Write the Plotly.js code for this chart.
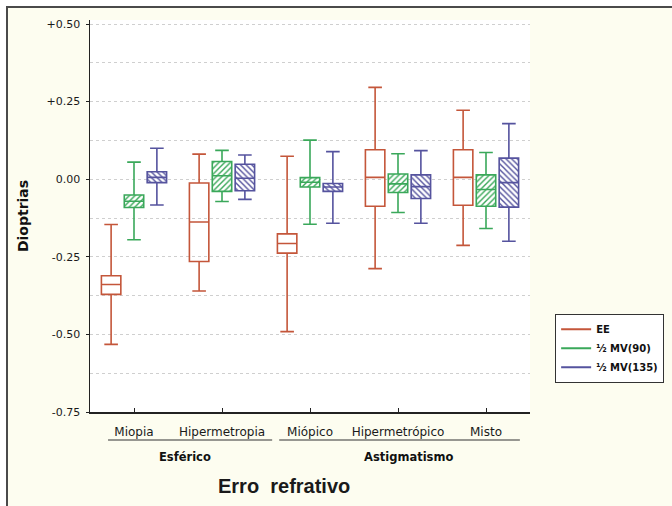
<!DOCTYPE html>
<html>
<head>
<meta charset="utf-8">
<script src="https://cdn.plot.ly/plotly-3.0.1.min.js"></script>
<style>
  html, body { margin: 0; padding: 0; background: #ffffff; width: 672px; height: 506px; overflow: hidden; }
  #frame { position: absolute; left: 6px; top: 6px; width: 666px; height: 500px; border-left: 2px solid #4a4a4a; border-top: 2px solid #4a4a4a; background: #fdfdf0; }
  #chart { width: 664px; height: 498px; }
</style>
</head>
<body>
<div id="frame"><div id="chart"></div></div>
<script>
// ---- data ----
const categories = ['Miopia', 'Hipermetropia', 'Miópico', 'Hipermetrópico', 'Misto'];
const groupLabels = ['Esférico', 'Astigmatismo'];
const seriesNames = ['EE', '½ MV(90)', '½ MV(135)'];

const eeUpper = [-0.146, 0.081, 0.074, 0.296, 0.222];
const eeQ3    = [-0.311, -0.012, -0.176, 0.095, 0.095];
const eeMed   = [-0.339, -0.138, -0.207, 0.006, 0.006];
const eeQ1    = [-0.371, -0.265, -0.238, -0.087, -0.084];
const eeLower = [-0.532, -0.360, -0.491, -0.288, -0.213];

const mv90Upper = [0.055, 0.093, 0.126, 0.082, 0.086];
const mv90Q3    = [-0.051, 0.057, 0.005, 0.017, 0.014];
const mv90Med   = [-0.071, 0.011, -0.010, -0.015, -0.033];
const mv90Q1    = [-0.091, -0.039, -0.025, -0.043, -0.087];
const mv90Lower = [-0.195, -0.072, -0.145, -0.107, -0.159];

const mv135Upper = [0.100, 0.078, 0.089, 0.092, 0.179];
const mv135Q3    = [0.024, 0.048, -0.014, 0.014, 0.068];
const mv135Med   = [0.006, 0.003, -0.025, -0.024, -0.011];
const mv135Q1    = [-0.011, -0.037, -0.039, -0.062, -0.090];
const mv135Lower = [-0.083, -0.065, -0.142, -0.142, -0.200];

const yTickVals = [0.5, 0.25, 0, -0.25, -0.5, -0.75];
const yTickText = ['+0.50', '+0.25', '0.00', '-0.25', '-0.50', '-0.75'];

// ---- styles ----
const colEE = '#c4563a';
const col90 = '#3aa85a';
const col135 = '#55539e';
const FONT = '"DejaVu Sans", sans-serif';
const FONT_T = 'Arial, "Liberation Sans", sans-serif';

const boxW = 0.221;
const slot = 0.26;
const catIdx = categories.map((_, i) => i);
const posAt = off => catIdx.map(i => i + off);

function boxTrace(name, color, off, q1, med, q3, lo, hi) {
  return {
    type: 'box', name: name, x: posAt(off), q1: q1, median: med, q3: q3,
    lowerfence: lo, upperfence: hi, width: boxW,
    line: { color: color, width: 1.6 }, fillcolor: 'rgba(0,0,0,0)',
    whiskerwidth: 0.7, showlegend: false, hoverinfo: 'y', boxpoints: false
  };
}
function hatchTrace(color, off, q1, q3, shape) {
  return {
    type: 'bar', x: posAt(off), base: q1, y: q3.map((v, i) => v - q1[i]),
    width: boxW,
    marker: { color: '#ffffff', line: { width: 0 },
      pattern: { shape: shape, fgcolor: color, bgcolor: '#ffffff', size: 4, solidity: 0.35 } },
    showlegend: false, hoverinfo: 'skip'
  };
}
function legendTrace(name, color) {
  return { type: 'scatter', mode: 'lines', x: [null], y: [null], name: name,
    line: { color: color, width: 2 }, hoverinfo: 'skip' };
}

const data = [
  hatchTrace(col90, 0, mv90Q1, mv90Q3, '/'),
  hatchTrace(col135, slot, mv135Q1, mv135Q3, '\\'),
  boxTrace(seriesNames[0], colEE, -slot, eeQ1, eeMed, eeQ3, eeLower, eeUpper),
  boxTrace(seriesNames[1], col90, 0, mv90Q1, mv90Med, mv90Q3, mv90Lower, mv90Upper),
  boxTrace(seriesNames[2], col135, slot, mv135Q1, mv135Med, mv135Q3, mv135Lower, mv135Upper),
  legendTrace(seriesNames[0], colEE),
  legendTrace(seriesNames[1], col90),
  legendTrace(seriesNames[2], col135)
];

const layout = {
  width: 664, height: 498,
  margin: { l: 82, r: 142, t: 12, b: 94 },
  paper_bgcolor: '#fdfdf0',
  plot_bgcolor: '#ffffff',
  font: { family: FONT, color: '#1a1a1a' },
  barmode: 'overlay',
  showlegend: true,
  legend: {
    xref: 'container', yref: 'container',
    x: 0.824, y: 0.386, xanchor: 'left', yanchor: 'top',
    bgcolor: '#ffffff', bordercolor: '#333333', borderwidth: 1,
    font: { family: FONT, size: 10, color: '#111111', weight: 'bold' },
    itemwidth: 30, tracegroupgap: 0
  },
  xaxis: {
    type: 'linear', range: [-0.5, 4.5],
    tickmode: 'array', tickvals: catIdx, ticktext: categories,
    showline: true, linecolor: '#222222', linewidth: 1.5,
    ticks: 'inside', ticklen: 4, tickcolor: '#222222',
    showgrid: false, zeroline: false,
    tickfont: { family: FONT, size: 12, color: '#1a1a1a' },
    ticklabelstandoff: 8
  },
  yaxis: {
    range: [-0.75, 0.513],
    tickmode: 'array', tickvals: yTickVals, ticktext: yTickText,
    showline: true, linecolor: '#222222', linewidth: 1.5,
    ticks: 'outside', ticklen: 3, tickcolor: '#222222',
    showgrid: true, gridcolor: '#cfcfcf', griddash: 'dot', gridwidth: 1,
    minor: { tickmode: 'linear', tick0: 0, dtick: 0.125, showgrid: true, gridcolor: '#cfcfcf', griddash: 'dot', gridwidth: 1 },
    zeroline: false,
    tickfont: { family: FONT, size: 11, color: '#1a1a1a' },
    ticklabelstandoff: 3,
    title: { text: 'Dioptrias', font: { family: FONT, size: 14, weight: 'bold', color: '#111111' }, standoff: 14 }
  },
  shapes: [
    { type: 'line', xref: 'paper', yref: 'paper', x0: 0.041, x1: 0.414, y0: -0.0714, y1: -0.0714, line: { color: '#333333', width: 1.2 } },
    { type: 'line', xref: 'paper', yref: 'paper', x0: 0.43, x1: 0.977, y0: -0.0714, y1: -0.0714, line: { color: '#333333', width: 1.2 } }
  ],
  annotations: [
    { xref: 'paper', yref: 'paper', x: 0.216, y: -0.115, text: groupLabels[0], showarrow: false, xanchor: 'center', yanchor: 'middle',
      font: { family: FONT, size: 11.5, weight: 'bold', color: '#111111' } },
    { xref: 'paper', yref: 'paper', x: 0.723, y: -0.115, text: groupLabels[1], showarrow: false, xanchor: 'center', yanchor: 'middle',
      font: { family: FONT, size: 11.5, weight: 'bold', color: '#111111' } },
    { xref: 'paper', yref: 'paper', x: 0.441, y: -0.189, text: 'Erro\u00a0 refrativo', showarrow: false, xanchor: 'center', yanchor: 'middle',
      font: { family: FONT_T, size: 20, weight: 'bold', color: '#1a1a1a' } }
  ]
};

Plotly.newPlot('chart', data, layout, { displayModeBar: false, staticPlot: true });
</script>
</body>
</html>
